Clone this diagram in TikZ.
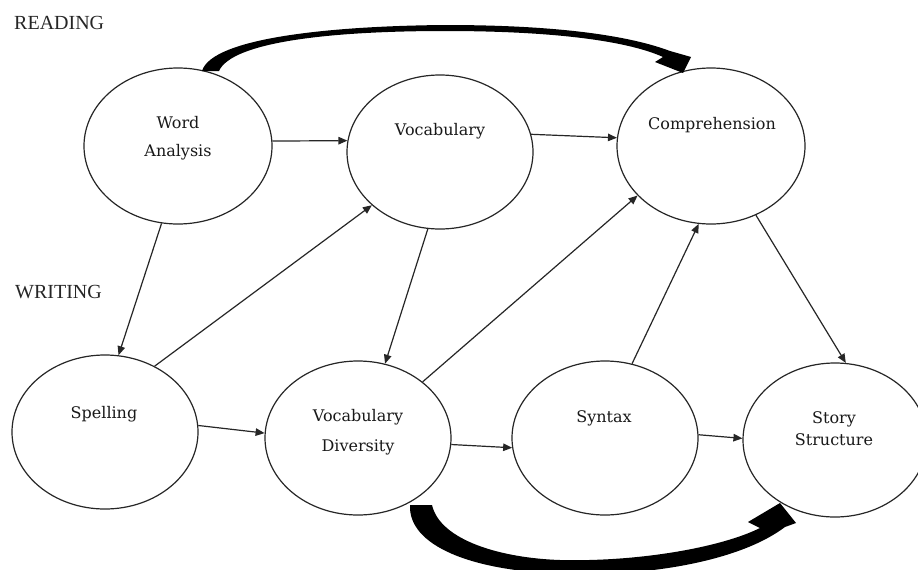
\documentclass[tikz,border=0pt]{standalone}
\usepackage{fontspec}
\setmainfont{DejaVu Serif}
\newfontfamily\headfont{Liberation Serif}
\usetikzlibrary{arrows.meta,shapes.geometric}
\tikzset{
  ell/.style={ellipse, draw=black!85, line width=1.2pt, inner sep=0pt,
              minimum width=186pt, minimum height=154pt},
  txt/.style={align=center, inner sep=0pt, text=black!90,
              font=\fontsize{16}{28}\selectfont},
  head/.style={anchor=west, inner sep=0pt, text=black!85,
               font=\headfont\fontsize{20}{24}\selectfont},
  conn/.style={draw=black!85, line width=1.2pt,
               -{Triangle[length=9pt,width=7.5pt]}},
  bigarrow/.style={fill=black}
}
\begin{document}
\begin{tikzpicture}[x=1pt,y=-1pt]
\useasboundingbox (0,0) rectangle (918,570);
\fill[white] (0,0) rectangle (918,570);

% section labels
\node[head] (reading) at (14,23) {READING};
\node[head] (writing) at (15,292) {WRITING};

% ellipses
\node[ell, minimum width=188pt, minimum height=156pt] (WA) at (178,146) {};
\node[ell] (V)  at (440,152) {};
\node[ell, minimum width=188pt, minimum height=156pt] (C)  at (711,146) {};
\node[ell] (S)  at (105,432) {};
\node[ell] (VD) at (358,438) {};
\node[ell] (SY) at (605,438) {};
\node[ell, minimum width=184pt] (SS) at (835,440) {};

% texts
\node[txt] (tWA) at (178,138) {Word\\Analysis};
\node[txt] (tV)  at (440,131) {Vocabulary};
\node[txt] (tC)  at (712,125) {Comprehension};
\node[txt] (tS)  at (104,414) {Spelling};
\node[txt, font=\fontsize{16}{30}\selectfont] (tVD) at (358,432) {Vocabulary\\Diversity};
\node[txt] (tSY) at (604,418) {Syntax};
\node[txt, font=\fontsize{16}{22}\selectfont] (tSS) at (834,429) {Story\\Structure};

% thin connectors
\draw[conn] (WA.3.7)   -- (V.173.3);
\draw[conn] (V.11.3)   -- (C.175.8);
\draw[conn] (WA.258.6) -- (S.80.8);
\draw[conn] (S.53.4)   -- (V.218.7);
\draw[conn] (V.261.5)  -- (VD.70.7);
\draw[conn] (VD.41.4)  -- (C.214.1);
\draw[conn] (S.4.3)    -- (VD.177);
\draw[conn] (VD.-4.4)  -- (SY.186.7);
\draw[conn] (SY.70.9)  -- (C.261.7);
\draw[conn] (C.-57.4)  -- (SS.82);
\draw[conn] (SY.2.5)   -- (SS.179.4);

% thick curved arrow: Word Analysis -> Comprehension
\fill[bigarrow] (202,71) .. controls (212,38) and (330,26) .. (445,25)
  .. controls (560,25) and (630,36) .. (670,51)
  -- (691,57) -- (683,73) -- (655,62) -- (663,57)
  .. controls (630,42) and (560,31) .. (445,31)
  .. controls (330,31) and (232,42) .. (219,71) -- cycle;

% thick curved arrow: Vocabulary Diversity -> Story Structure
\fill[bigarrow] (410,505) -- (432,505)
  .. controls (440,540) and (500,558) .. (560,560)
  .. controls (640,562) and (722,547) .. (760,528)
  -- (748,522) -- (780,503) -- (796,523) -- (785,527)
  .. controls (740,561) and (650,576) .. (570,574)
  .. controls (470,572) and (408,545) .. (410,505) -- cycle;
\end{tikzpicture}
\end{document}
